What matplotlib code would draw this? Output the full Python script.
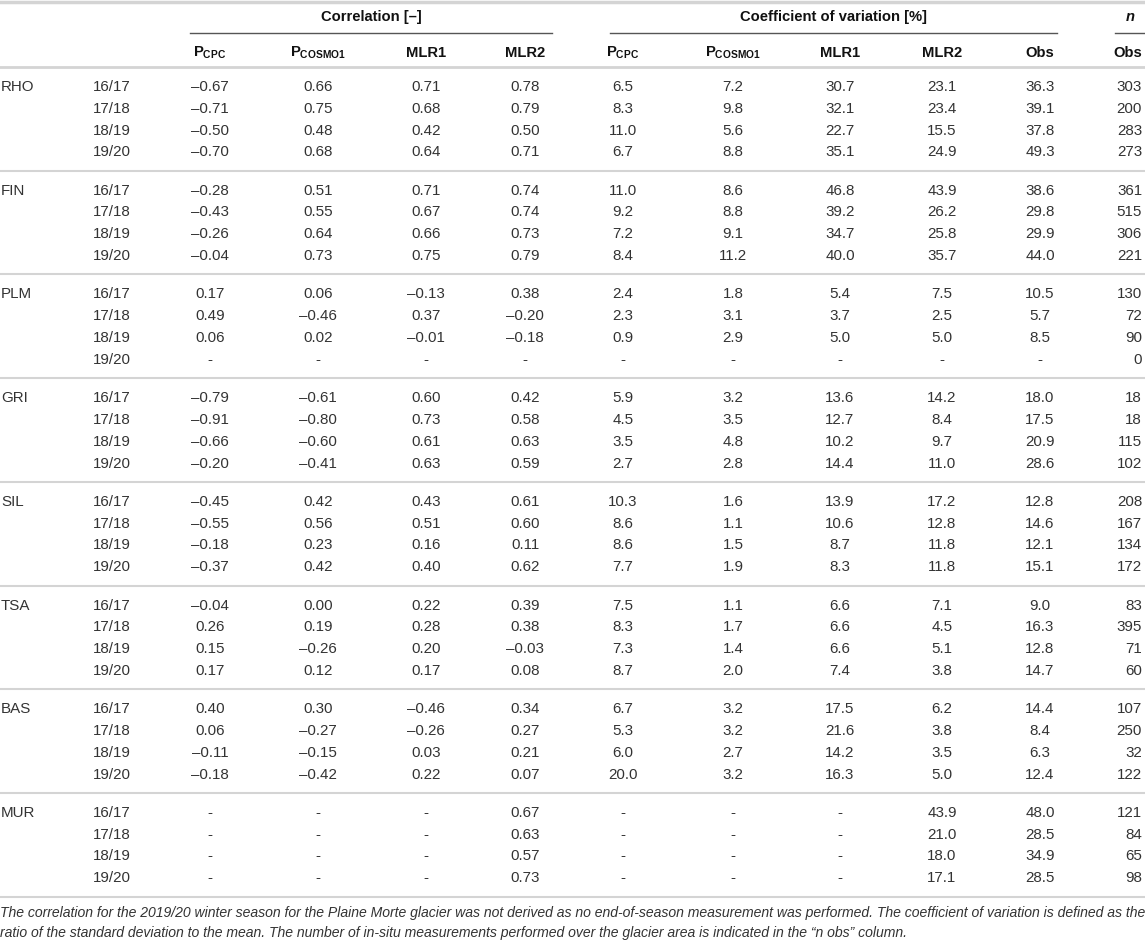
import numpy as np
import matplotlib.pyplot as plt

nan = np.nan

sites = ['RHO', 'FIN', 'PLM', 'GRI', 'SIL', 'TSA', 'BAS', 'MUR']
seasons = ['16/17', '17/18', '18/19', '19/20']

# Correlation [-]
corr_pcpc = [-0.67, -0.71, -0.50, -0.70, -0.28, -0.43, -0.26, -0.04,
             0.17, 0.49, 0.06, nan, -0.79, -0.91, -0.66, -0.20,
             -0.45, -0.55, -0.18, -0.37, -0.04, 0.26, 0.15, 0.17,
             0.40, 0.06, -0.11, -0.18, nan, nan, nan, nan]
corr_cosmo = [0.66, 0.75, 0.48, 0.68, 0.51, 0.55, 0.64, 0.73,
              0.06, -0.46, 0.02, nan, -0.61, -0.80, -0.60, -0.41,
              0.42, 0.56, 0.23, 0.42, 0.00, 0.19, -0.26, 0.12,
              0.30, -0.27, -0.15, -0.42, nan, nan, nan, nan]
corr_mlr1 = [0.71, 0.68, 0.42, 0.64, 0.71, 0.67, 0.66, 0.75,
             -0.13, 0.37, -0.01, nan, 0.60, 0.73, 0.61, 0.63,
             0.43, 0.51, 0.16, 0.40, 0.22, 0.28, 0.20, 0.17,
             -0.46, -0.26, 0.03, 0.22, nan, nan, nan, nan]
corr_mlr2 = [0.78, 0.79, 0.50, 0.71, 0.74, 0.74, 0.73, 0.79,
             0.38, -0.20, -0.18, nan, 0.42, 0.58, 0.63, 0.59,
             0.61, 0.60, 0.11, 0.62, 0.39, 0.38, -0.03, 0.08,
             0.34, 0.27, 0.21, 0.07, 0.67, 0.63, 0.57, 0.73]

# Coefficient of variation [%]
cov_pcpc = [6.5, 8.3, 11.0, 6.7, 11.0, 9.2, 7.2, 8.4,
            2.4, 2.3, 0.9, nan, 5.9, 4.5, 3.5, 2.7,
            10.3, 8.6, 8.6, 7.7, 7.5, 8.3, 7.3, 8.7,
            6.7, 5.3, 6.0, 20.0, nan, nan, nan, nan]
cov_cosmo = [7.2, 9.8, 5.6, 8.8, 8.6, 8.8, 9.1, 11.2,
             1.8, 3.1, 2.9, nan, 3.2, 3.5, 4.8, 2.8,
             1.6, 1.1, 1.5, 1.9, 1.1, 1.7, 1.4, 2.0,
             3.2, 3.2, 2.7, 3.2, nan, nan, nan, nan]
cov_mlr1 = [30.7, 32.1, 22.7, 35.1, 46.8, 39.2, 34.7, 40.0,
            5.4, 3.7, 5.0, nan, 13.6, 12.7, 10.2, 14.4,
            13.9, 10.6, 8.7, 8.3, 6.6, 6.6, 6.6, 7.4,
            17.5, 21.6, 14.2, 16.3, nan, nan, nan, nan]
cov_mlr2 = [23.1, 23.4, 15.5, 24.9, 43.9, 26.2, 25.8, 35.7,
            7.5, 2.5, 5.0, nan, 14.2, 8.4, 9.7, 11.0,
            17.2, 12.8, 11.8, 11.8, 7.1, 4.5, 5.1, 3.8,
            6.2, 3.8, 3.5, 5.0, 43.9, 21.0, 18.0, 17.1]
cov_obs = [36.3, 39.1, 37.8, 49.3, 38.6, 29.8, 29.9, 44.0,
           10.5, 5.7, 8.5, nan, 18.0, 17.5, 20.9, 28.6,
           12.8, 14.6, 12.1, 15.1, 9.0, 16.3, 12.8, 14.7,
           14.4, 8.4, 6.3, 12.4, 48.0, 28.5, 34.9, 28.5]

# number of observations
n_obs = [303, 200, 283, 273, 361, 515, 306, 221,
         130, 72, 90, 0, 18, 18, 115, 102,
         208, 167, 134, 172, 83, 395, 71, 60,
         107, 250, 32, 122, 121, 84, 65, 98]

footnote = ["The correlation for the 2019/20 winter season for the Plaine Morte glacier was not derived "
            "as no end-of-season measurement was performed. The coefficient of variation is defined as the",
            "ratio of the standard deviation to the mean. The number of in-situ measurements performed "
            "over the glacier area is indicated in the \u201cn obs\u201d column."]

plt.rcParams['font.family'] = ['Liberation Sans', 'DejaVu Sans']
plt.rcParams['mathtext.fontset'] = 'custom'
plt.rcParams['mathtext.rm'] = 'Liberation Sans'
plt.rcParams['mathtext.bf'] = 'Liberation Sans:bold'

W, H = 1145, 943
fig = plt.figure(figsize=(W / 100, H / 100), dpi=100)
ax = fig.add_axes([0, 0, 1, 1])
ax.set_xlim(0, W)
ax.set_ylim(H, 0)
ax.axis('off')

txt = '#333333'
fs = 10.9
hfs = 10.6
light = '#d4d4d4'

corr_x = [210, 318, 426, 525]
cov_x = [623, 733, 840, 942, 1040]
n_x = 1142

# header
ax.plot([0, W], [2, 2], color=light, lw=2.5)
ax.text((190 + 552) / 2, 17, 'Correlation [\u2013]', ha='center', va='center',
        fontsize=hfs, fontweight='bold', color='#111')
ax.plot([190, 552], [33, 33], color='#555', lw=1)
ax.text((610 + 1057) / 2, 17, 'Coefficient of variation [%]', ha='center', va='center',
        fontsize=hfs, fontweight='bold', color='#111')
ax.plot([610, 1057], [33, 33], color='#555', lw=1)
ax.text(1130, 17, 'n', ha='center', va='center', fontsize=hfs,
        fontweight='bold', style='italic', color='#111')
ax.plot([1115, W], [33, 33], color='#555', lw=1)

sub_labels = [r'$\mathbf{P_{CPC}}$', r'$\mathbf{P_{COSMO1}}$', 'MLR1', 'MLR2']
for x, lab in zip(corr_x, sub_labels):
    ax.text(x, 53, lab, ha='center', va='center', fontsize=hfs, fontweight='bold', color='#111')
for x, lab in zip(cov_x, sub_labels + ['Obs']):
    ax.text(x, 53, lab, ha='center', va='center', fontsize=hfs, fontweight='bold', color='#111')
ax.text(n_x, 53, 'Obs', ha='right', va='center', fontsize=hfs, fontweight='bold', color='#111')
ax.plot([0, W], [67, 67], color=light, lw=2)


def fmt(v, nd):
    if np.isnan(v):
        return '-'
    s = f'{v:.{nd}f}'
    return s.replace('-', '\u2013')


corr_cols = [corr_pcpc, corr_cosmo, corr_mlr1, corr_mlr2]
cov_cols = [cov_pcpc, cov_cosmo, cov_mlr1, cov_mlr2, cov_obs]

y0, gstep, rstep = 87, 103.7, 21.8
for g, site in enumerate(sites):
    gy = y0 + g * gstep
    ax.text(1, gy, site, ha='left', va='center', fontsize=fs, color=txt)
    for i, season in enumerate(seasons):
        k = g * 4 + i
        y = gy + i * rstep
        ax.text(93, y, season, ha='left', va='center', fontsize=fs, color=txt)
        for x, col in zip(corr_x, corr_cols):
            ax.text(x, y, fmt(col[k], 2), ha='center', va='center', fontsize=fs, color=txt)
        for x, col in zip(cov_x, cov_cols):
            ax.text(x, y, fmt(col[k], 1), ha='center', va='center', fontsize=fs, color=txt)
        ax.text(n_x, y, str(n_obs[k]), ha='right', va='center', fontsize=fs, color=txt)
    ax.plot([0, W], [gy + gstep - 20] * 2, color=light, lw=1.5)

for j, line in enumerate(footnote):
    ax.text(0, 913 + j * 20, line, ha='left', va='center', fontsize=10.05,
            style='italic', color=txt, family=['Liberation Sans Narrow', 'Liberation Sans'])

fig.savefig('out.png', dpi=100)
